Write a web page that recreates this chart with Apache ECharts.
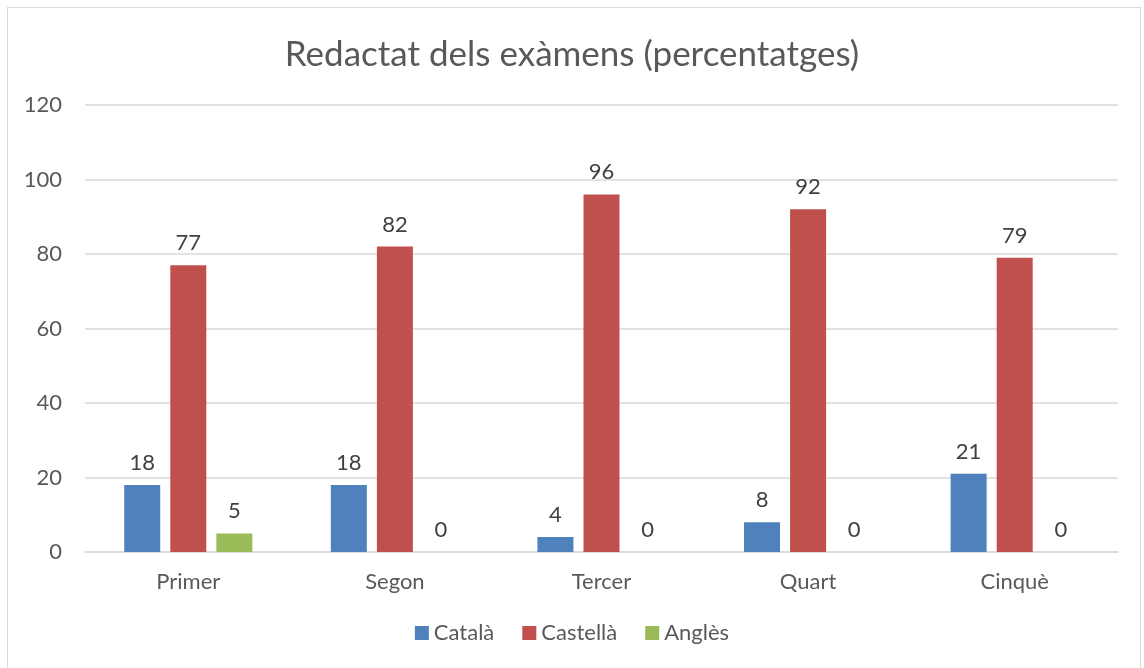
<!DOCTYPE html>
<html>
<head>
<meta charset="utf-8">
<script src="https://cdn.jsdelivr.net/npm/echarts@6/dist/echarts.min.js"></script>
<style>
  html, body { margin: 0; padding: 0; background: #fff; }
  #frame { position: absolute; left: 7px; top: 7px; width: 1134px; height: 664px; border: 1px solid #d9d9d9; box-sizing: border-box; }
  #main { position: absolute; left: 0; top: 0; width: 1144px; height: 668px; }
</style>
</head>
<body>
<div id="frame"></div>
<div id="main"></div>
<script>
const categories = ['Primer', 'Segon', 'Tercer', 'Quart', 'Cinquè']
const catala = [18, 18, 4, 8, 21]
const castella = [77, 82, 96, 92, 79]
const angles = [5, 0, 0, 0, 0]

const font = 'Lato, "Open Sans", sans-serif'
const label = { show: true, position: 'top', distance: 11, color: '#404040', fontSize: 22, fontFamily: font }

const myChart = echarts.init(document.getElementById('main'))
myChart.setOption({
  animation: false,
  title: {
    text: 'Redactat dels exàmens (percentatges)',
    left: 'center',
    top: 32,
    textStyle: { color: '#595959', fontSize: 35, fontWeight: 'normal', fontFamily: font }
  },
  grid: { left: 85, right: 26, top: 105, bottom: 116 },
  legend: {
    bottom: 19,
    itemWidth: 14,
    itemHeight: 14,
    itemGap: 28,
    icon: 'rect',
    textStyle: { color: '#595959', fontSize: 22, fontFamily: font }
  },
  xAxis: {
    type: 'category',
    data: categories,
    axisLine: { lineStyle: { color: '#d9d9d9', width: 1.5 } },
    axisTick: { show: false },
    axisLabel: { color: '#595959', fontSize: 22, fontFamily: font, margin: 19 }
  },
  yAxis: {
    type: 'value',
    min: 0,
    max: 120,
    interval: 20,
    axisLine: { show: false },
    axisTick: { show: false },
    splitLine: { lineStyle: { color: '#d9d9d9', width: 1.5 } },
    axisLabel: { color: '#595959', fontSize: 22, fontFamily: font, margin: 23 }
  },
  series: [
    { name: 'Català', type: 'bar', data: catala, barWidth: 36, barGap: '28%', itemStyle: { color: '#4f81bd' }, label },
    { name: 'Castellà', type: 'bar', data: castella, barWidth: 36, itemStyle: { color: '#c0504d' }, label },
    { name: 'Anglès', type: 'bar', data: angles, barWidth: 36, itemStyle: { color: '#9bbb59' }, label }
  ]
})
</script>
</body>
</html>
